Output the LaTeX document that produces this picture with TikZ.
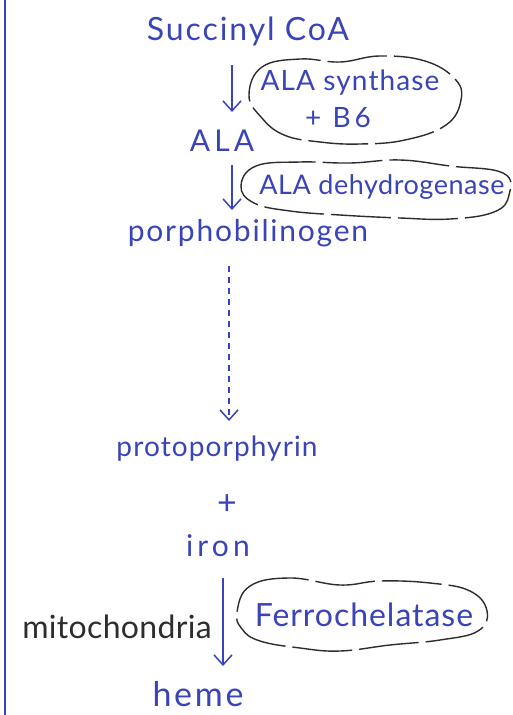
\documentclass[tikz,border=0pt]{standalone}
\usepackage{fontspec}
\setmainfont{Lato}
\usetikzlibrary{arrows.meta}
\definecolor{pen}{RGB}{58,68,185}
\definecolor{ink}{RGB}{45,45,45}
\tikzset{
  lbl/.style={text=pen, inner sep=0pt, anchor=center},
  enz/.style={text=pen, inner sep=0pt, anchor=center},
  step arrow/.style={draw=pen, line width=1.5pt, -{Straight Barb[length=10pt,width=18pt,line width=1.5pt]}},
  cloudline/.style={draw=ink, line width=1.4pt, dash pattern=on 60pt off 7pt},
}
\begin{document}
\begin{tikzpicture}[x=1pt,y=-1pt]
\useasboundingbox (0,0) rectangle (512,715);
\fill[white] (0,0) rectangle (512,715);
\draw[pen, line width=2pt] (5,0) -- (5,715);

% metabolites
\node[lbl, font=\fontsize{32}{34}\selectfont\addfontfeature{LetterSpace=6}] (succ) at (248,31) {Succinyl CoA};
\node[lbl, font=\fontsize{30}{32}\selectfont\addfontfeature{LetterSpace=14}] (ala) at (222,141) {ALA};
\node[lbl, font=\fontsize{30}{32}\selectfont\addfontfeature{LetterSpace=6}] (pbg) at (248,233) {porphobilinogen};
\node[lbl, font=\fontsize{28}{30}\selectfont\addfontfeature{LetterSpace=4}] (proto) at (217,449) {protoporphyrin};
\node[lbl, font=\fontsize{34}{36}\selectfont] (plus) at (227,505) {+};
\node[lbl, font=\fontsize{30}{32}\selectfont\addfontfeature{LetterSpace=14}] (iron) at (218,546) {iron};
\node[lbl, font=\fontsize{34}{36}\selectfont\addfontfeature{LetterSpace=8}] (heme) at (198,694) {heme};
\node[text=ink, inner sep=0pt, font=\fontsize{32}{34}\selectfont\addfontfeature{LetterSpace=1}] (mito) at (117,627) {mitochondria};

% enzymes
\node[enz, font=\fontsize{28}{30}\selectfont\addfontfeature{LetterSpace=4}] (alas) at (350,83) {ALA synthase};
\node[enz, font=\fontsize{28}{30}\selectfont\addfontfeature{LetterSpace=14}] (b6) at (338,118) {+ B6};
\node[enz, font=\fontsize{27}{30}\selectfont\addfontfeature{LetterSpace=2}] (alad) at (382,187) {ALA dehydrogenase};
\node[enz, font=\fontsize{32}{34}\selectfont\addfontfeature{LetterSpace=3}] (fc) at (364,615) {Ferrochelatase};

% clouds
\draw[cloudline] plot[smooth cycle, tension=0.7] coordinates {(249,95) (262,67) (300,59) (340,62) (380,56) (425,61) (455,79) (461,100) (446,125) (405,140) (360,144) (320,142) (284,135) (261,117)};
\draw[cloudline] plot[smooth cycle, tension=0.7] coordinates {(241,186) (256,166) (300,162) (350,163) (400,160) (450,166) (503,173) (509,195) (494,212) (450,219) (400,218) (340,215) (290,211) (254,203)};
\draw[cloudline] plot[smooth cycle, tension=0.7] coordinates {(237,612) (250,586) (290,578) (340,585) (380,581) (430,583) (470,591) (487,611) (478,631) (440,640) (390,645) (340,651) (300,648) (260,641) (242,629)};

% arrows
\coordinate (a1s) at (232,65);  \coordinate (a1e) at (232,112);
\coordinate (a2s) at (232,165); \coordinate (a2e) at (232,210);
\coordinate (a3s) at (229,266); \coordinate (a3e) at (229,421);
\coordinate (a4s) at (223,578); \coordinate (a4e) at (223,666);
\draw[step arrow] (a1s) -- (a1e);
\draw[step arrow] (a2s) -- (a2e);
\draw[step arrow, line width=1.2pt, dash pattern=on 6pt off 5pt] (a3s) -- (a3e);
\draw[step arrow] (a4s) -- (a4e);
\end{tikzpicture}
\end{document}
